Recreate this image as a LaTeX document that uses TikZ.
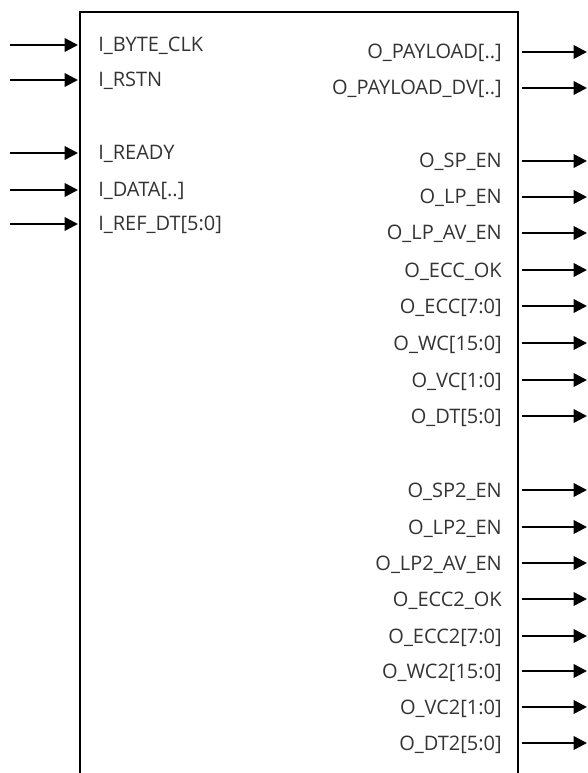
\documentclass[tikz,border=0pt]{standalone}
\usepackage{fontspec}
\setmainfont{Open Sans}
\usetikzlibrary{arrows.meta,positioning}
\tikzset{
  sig/.style={line width=1.8pt, -{Triangle[length=10pt,width=10pt]}},
  inlbl/.style={anchor=base west, inner sep=0pt, text=black!80, font=\fontsize{15pt}{17pt}\selectfont},
  outlbl/.style={anchor=base east, inner sep=0pt, text=black!80, font=\fontsize{15pt}{17pt}\selectfont}
}
\newcommand{\InSig}[3]{%
  \node[inlbl] (#1) at (98,#2+7) {#3};
  \coordinate (#1s) at (10,#2);
  \coordinate (#1e) at (78,#2);
  \draw[sig] (#1s) -- (#1e);}
\newcommand{\OutSig}[3]{%
  \node[outlbl] (#1) at (502,#2+7) {#3};
  \coordinate (#1s) at (522,#2);
  \coordinate (#1e) at (587,#2);
  \draw[sig] (#1s) -- (#1e);}
\begin{document}
\begin{tikzpicture}[x=0.75pt,y=-0.75pt]
\useasboundingbox (0,0) rectangle (587,773);

	% block, open at the bottom
	\coordinate (bl) at (80,773);
	\coordinate (tl) at (80,12);
	\coordinate (tr) at (518,12);
	\coordinate (br) at (518,773);
	\draw[line width=1.6pt] (bl) -- (tl) -- (tr) -- (br);

	% inputs
	\InSig{clk}{45}{I\_BYTE\_CLK}
	\InSig{rstn}{80}{I\_RSTN}
	
	\InSig{ready}{153}{I\_READY}
	\InSig{data}{190}{I\_DATA[..]}
	\InSig{refdt}{224}{I\_REF\_DT[5:0]}

	% outputs
	\OutSig{pl}{52}{O\_PAYLOAD[..]}
	\OutSig{pldv}{88}{O\_PAYLOAD\_DV[..]}
	
	\OutSig{sp}{161}{O\_SP\_EN}
	\OutSig{lp}{197}{O\_LP\_EN}
	\OutSig{lpav}{233}{O\_LP\_AV\_EN}
	\OutSig{eccok}{270}{O\_ECC\_OK}
	\OutSig{ecc}{306}{O\_ECC[7:0]}
	\OutSig{wc}{343}{O\_WC[15:0]}
	\OutSig{vc}{380}{O\_VC[1:0]}
	\OutSig{dt}{416}{O\_DT[5:0]}
	
	\OutSig{sptwo}{490}{O\_SP2\_EN}
	\OutSig{lptwo}{527}{O\_LP2\_EN}
	\OutSig{lpavtwo}{563}{O\_LP2\_AV\_EN}
	\OutSig{eccoktwo}{599}{O\_ECC2\_OK}
	\OutSig{ecctwo}{636}{O\_ECC2[7:0]}
	\OutSig{wctwo}{671}{O\_WC2[15:0]}
	\OutSig{vctwo}{707}{O\_VC2[1:0]}
	\OutSig{dttwo}{743}{O\_DT2[5:0]}

\end{tikzpicture}
\end{document}
